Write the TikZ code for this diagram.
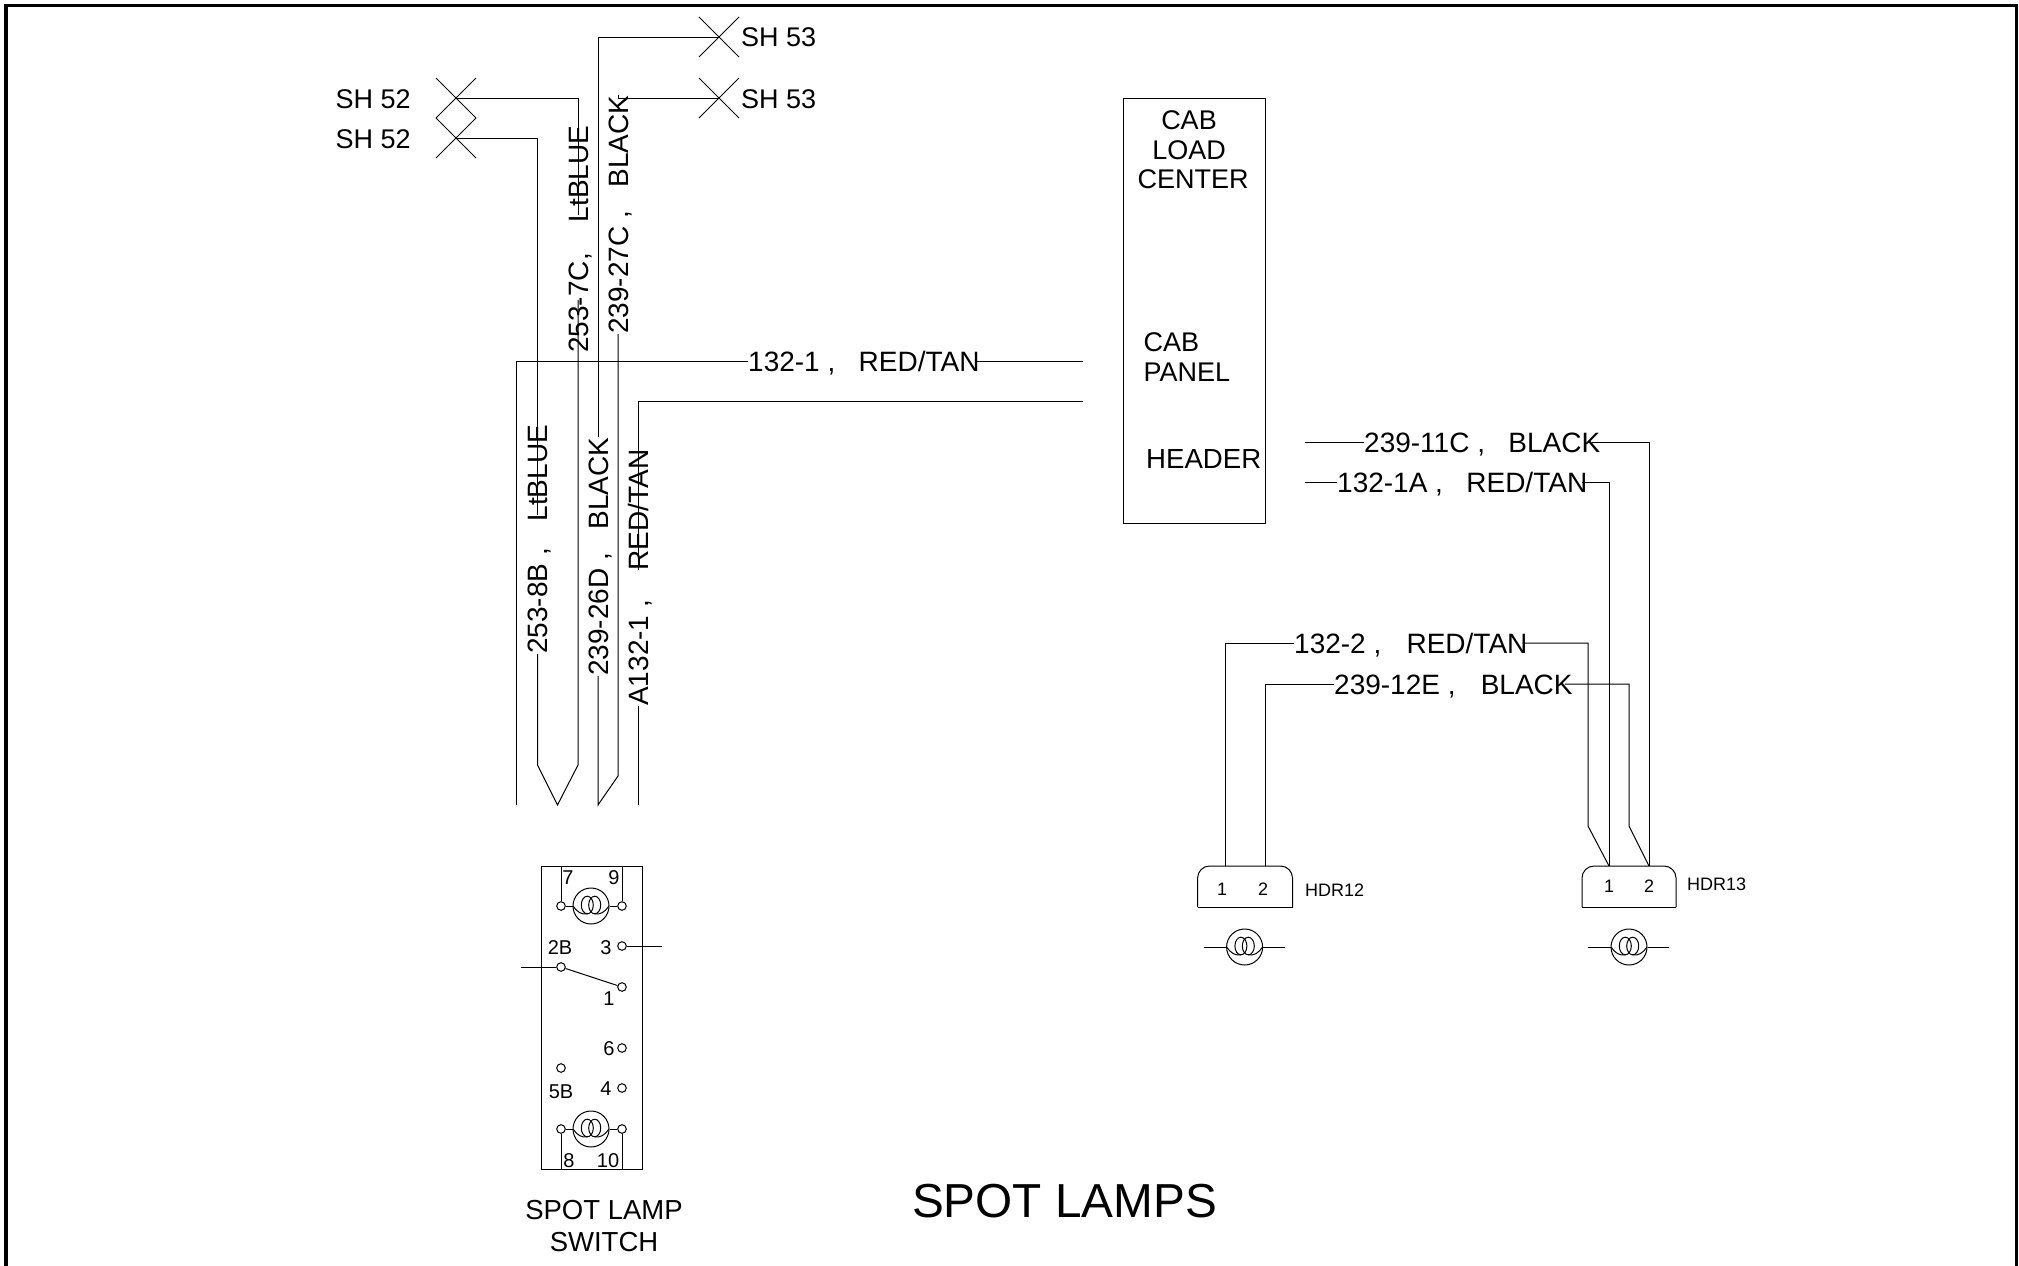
\documentclass[tikz,border=0pt]{standalone}
\usepackage{fontspec}
\setmainfont{Liberation Sans}

\tikzset{
  wire/.style={line width=1pt, black},
  wiretext/.style={font=\fontsize{28}{32}\selectfont, inner sep=0pt, text height=20pt, text depth=0pt},
  boxtext/.style={font=\fontsize{27}{32}\selectfont, inner sep=0pt, text height=19.3pt, text depth=0pt},
  pintext/.style={font=\fontsize{20}{24}\selectfont, inner sep=0pt, text height=14.3pt, text depth=0pt},
  hdrtext/.style={font=\fontsize{18}{22}\selectfont, inner sep=0pt, text height=12.9pt, text depth=0pt},
  terminal/.style={circle, draw, line width=1pt, inner sep=0pt, minimum size=8.6pt},
  bulb/.style={circle, draw, line width=1pt, inner sep=0pt, minimum size=36pt},
  coil/.pic={
    \draw[wire] (-3.7, -1) ellipse (6 and 8.8);
    \draw[wire] (3.7, -1) ellipse (6 and 8.8);
    \draw[wire] (-18, 0) .. controls (-14, 6) and (-9, 9) .. (-3.7, 7.8);
    \draw[wire] (18, 0) .. controls (14, 6) and (9, 9) .. (3.7, 7.8);
  }
}

\begin{document}
\begin{tikzpicture}[x=1pt, y=-1pt]
  \useasboundingbox (0, 0) rectangle (2019, 1266);
  \draw[line width=3.2pt] (6, 1270) -- (6, 5.5) -- (2016.5, 5.5) -- (2016.5, 1270);

  % sheet references
  \foreach \name/\x/\y in {shTwoA/456/98, shTwoB/456/138, shThreeA/719/37, shThreeB/719/98} {
    \coordinate (\name) at (\x, \y);
    \draw[wire] (\name) +(-20, -20) -- +(20, 20) +(-20, 20) -- +(20, -20);
  }
  \node[boxtext, anchor=west] (refTwoA) at (335.5, 99) {SH 52};
  \node[boxtext, anchor=west] (refTwoB) at (335.5, 139) {SH 52};
  \node[boxtext, anchor=west] (refThreeA) at (741, 37) {SH 53};
  \node[boxtext, anchor=west] (refThreeB) at (741, 99) {SH 53};

  % wire labels
  \node[wiretext, rotate=90, anchor=west] (lab7C) at (578, 353) {253-7C,~~~~LtBLUE};
  \node[wiretext, rotate=90, anchor=west] (lab27C) at (618, 334) {239-27C ,~~~BLACK};
  \node[wiretext, rotate=90, anchor=west] (lab8B) at (537.5, 654) {253-8B ,\hspace{.95em}LtBLUE};
  \node[wiretext, rotate=90, anchor=west] (lab26D) at (598, 676) {239-26D ,~~~BLACK};
  \node[wiretext, rotate=90, anchor=west] (labA132) at (638, 706) {A132-1 ,\hspace{1.05em}RED/TAN};
  \node[wiretext, anchor=west] (lab132) at (748, 361) {132-1 ,~~~RED/TAN};
  \node[wiretext, anchor=west] (lab11C) at (1364, 442) {239-11C ,~~~BLACK};
  \node[wiretext, anchor=west] (lab1A) at (1337, 482) {132-1A ,~~~RED/TAN};
  \node[wiretext, anchor=west] (lab2) at (1294, 643) {132-2 ,\hspace{.9em}RED/TAN};
  \node[wiretext, anchor=west] (lab12E) at (1334, 684) {239-12E ,\hspace{.9em}BLACK};

  % free wire ends
  \coordinate (end7C) at (578, 215);
  \coordinate (start7C) at (578, 300);
  \coordinate (end8B) at (537.5, 515);
  \coordinate (endA132) at (638, 570);
  \coordinate (tipA) at (537.5, 765);
  \coordinate (tipB) at (557.5, 805);
  \coordinate (tipC) at (578, 765);
  \coordinate (tipD) at (618, 776);
  \coordinate (tipE) at (598, 805);
  \coordinate (foot132) at (516, 805);
  \coordinate (footA132) at (638, 805);
  \coordinate (panelA) at (1083, 361);
  \coordinate (panelB) at (1083, 401);
  \coordinate (headerA) at (1305, 442);
  \coordinate (headerB) at (1305, 482);

  % connector outlines
  \draw[wire, rounded corners=12pt] (1197.6, 907) -- (1197.6, 866) -- (1292.5, 866) -- (1292.5, 907);
  \draw[wire] (1197.6, 907) -- (1292.5, 907);
  \draw[wire, rounded corners=12pt] (1582, 907) -- (1582, 866) -- (1676, 866) -- (1676, 907);
  \draw[wire] (1582, 907) -- (1676, 907);
  \foreach \name/\x/\y/\txt in {hdrA/1222/889/1, hdrB/1263/889/2, hdrC/1609/886/1, hdrD/1649/886/2} {
    \node[hdrtext] (\name) at (\x, \y) {\txt};
  }
  \node[hdrtext, anchor=west] (hdrTwelve) at (1305, 890) {HDR12};
  \node[hdrtext, anchor=west] (hdrThirteen) at (1687, 884) {HDR13};
  \coordinate (pinA) at (1225, 866);
  \coordinate (pinB) at (1265, 866);
  \coordinate (pinC) at (1609, 866);
  \coordinate (pinD) at (1649, 866);
  \coordinate (bendC) at (1588, 826);
  \coordinate (bendD) at (1629, 826);

  % wires
  \draw[wire] (shTwoA) -| (end7C);
  \draw[wire] (shTwoB) -| (end8B);
  \draw[wire] (shThreeA) -| (lab26D.east);
  \draw[wire] (shThreeB) -| (lab27C.east);
  \draw[wire] (lab8B.west) -- (tipA) -- (tipB) -- (tipC) -- (start7C);
  \draw[wire] (lab27C.west) -- (tipD) -- (tipE) -- (lab26D.west);
  \draw[wire] (lab132.west) -| (foot132);
  \draw[wire] ([xshift=-4pt]lab132.east) -- (panelA);
  \draw[wire] (panelB) -| (endA132);
  \draw[wire] (labA132.west) -- (footA132);
  \draw[wire] (headerA) -- (lab11C.west);
  \draw[wire] ([xshift=-8pt]lab11C.east) -| (pinD);
  \draw[wire] (headerB) -- (lab1A.west);
  \draw[wire] ([xshift=-5pt]lab1A.east) -| (pinC);
  \draw[wire] (pinA) |- (lab2.west);
  \draw[wire] ([xshift=-5pt]lab2.east) -| (bendC) -- (pinC);
  \draw[wire] (pinB) |- (lab12E.west);
  \draw[wire] ([xshift=-8pt]lab12E.east) -| (bendD) -- (pinD);

  % load center
  \node[draw, line width=1pt, minimum width=142pt, minimum height=425pt, inner sep=0pt] (loadCenter) at (1194, 310.5) {};
  \node[boxtext] (txtCab) at (1189, 120) {CAB};
  \node[boxtext] (txtLoad) at (1189, 150) {LOAD};
  \node[boxtext] (txtCenter) at (1193, 179) {CENTER};
  \node[boxtext, anchor=west] (txtCabB) at (1143.5, 342) {CAB};
  \node[boxtext, anchor=west] (txtPanel) at (1143.5, 372) {PANEL};
  \node[boxtext, anchor=west, font=\fontsize{27.6}{32}\selectfont] (txtHeader) at (1146, 459) {HEADER};

  % switch
  \node[draw, line width=1pt, minimum width=101pt, minimum height=303pt, inner sep=0pt] (switchBox) at (591.5, 1017.5) {};
  \foreach \name/\x/\y in {tSeven/561/906, tNine/622/906, tThree/622/946, tTwoB/561/967, tOne/622/987,
      tSix/622/1048, tFiveB/561/1068, tFour/622/1088, tEight/561/1129, tTen/622/1129} {
    \node[terminal] (\name) at (\x, \y) {};
  }
  \node[bulb] (lampTop) at (591, 906) {};
  \node[bulb] (lampBot) at (591, 1129) {};
  \node[bulb] (lampA) at (1244.6, 947) {};
  \node[bulb] (lampB) at (1629, 947) {};
  \foreach \name in {lampTop, lampBot, lampA, lampB} {
    \pic at (\name) {coil};
  }
  \coordinate (topSeven) at (561, 866);
  \coordinate (topNine) at (622, 866);
  \coordinate (botEight) at (561, 1169);
  \coordinate (botTen) at (622, 1169);
  \coordinate (outThree) at (662, 946);
  \coordinate (outTwoB) at (521, 967);
  \coordinate (stubA) at (1204, 947);
  \coordinate (stubB) at (1285, 947);
  \coordinate (stubC) at (1588, 947);
  \coordinate (stubD) at (1669, 947);
  \draw[wire] (topSeven) -- (tSeven);
  \draw[wire] (topNine) -- (tNine);
  \draw[wire] (botEight) -- (tEight);
  \draw[wire] (botTen) -- (tTen);
  \draw[wire] (tSeven) -- (lampTop);
  \draw[wire] (tNine) -- (lampTop);
  \draw[wire] (tEight) -- (lampBot);
  \draw[wire] (tTen) -- (lampBot);
  \draw[wire] (tThree) -- (outThree);
  \draw[wire] (outTwoB) -- (tTwoB);
  \draw[wire] (tTwoB) -- (tOne);
  \draw[wire] (stubA) -- (lampA);
  \draw[wire] (stubB) -- (lampA);
  \draw[wire] (stubC) -- (lampB);
  \draw[wire] (stubD) -- (lampB);
  \foreach \name/\x/\y/\txt in {pSeven/568/877/7, pNine/614/877/9, pTwoB/560/947/2B, pThree/606/947/3, pOne/609/998/1,
      pSix/609/1048/6, pFiveB/561/1091/5B, pFour/606/1088/4, pEight/569/1160/8, pTen/608/1160/10} {
    \node[pintext] (\name) at (\x, \y) {\txt};
  }

  % titles
  \node[font=\fontsize{27.5}{32}\selectfont, inner sep=0pt, align=center] (switchName) at (604, 1226) {SPOT LAMP\\SWITCH};
  \node[font=\fontsize{47.7}{54}\selectfont, inner sep=0pt] (title) at (1064.5, 1201) {SPOT LAMPS};
\end{tikzpicture}
\end{document}
